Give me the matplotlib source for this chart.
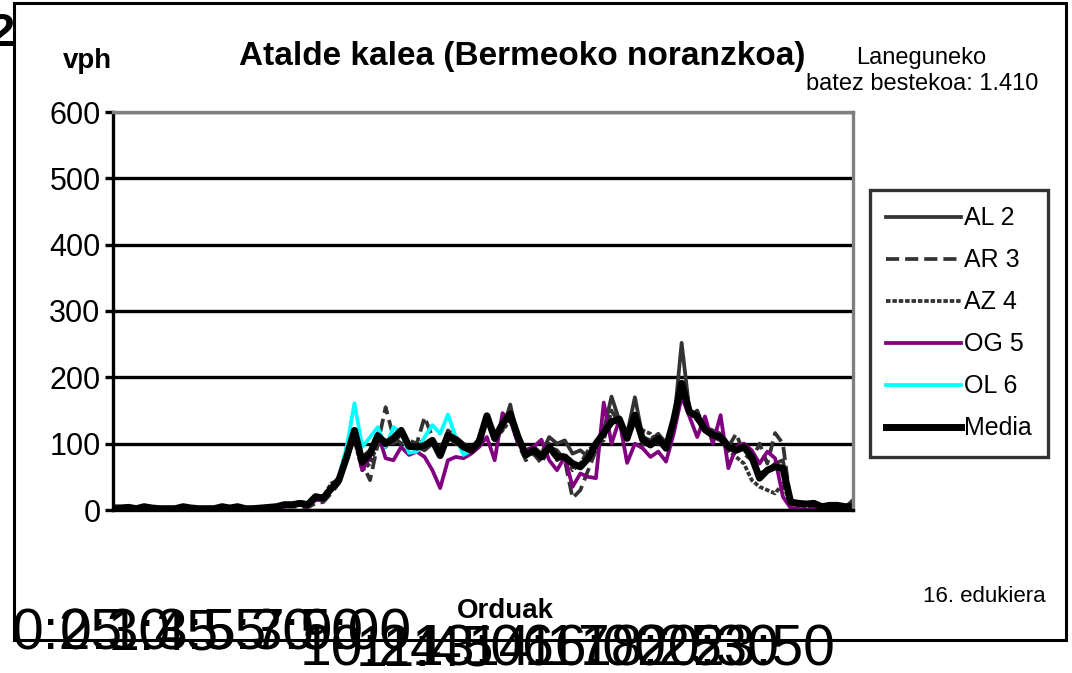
import numpy as np
import matplotlib.pyplot as plt
from matplotlib.patches import Rectangle

plt.rcParams['font.family'] = ['Liberation Sans', 'DejaVu Sans']

# Datuak: 15 minutuko tarteak (96 puntu)
al2 = [5, 5, 5, 3, 6, 4, 3, 3, 3, 6, 4, 3, 3, 3, 6, 4, 6, 3, 3, 4, 5, 6,
       9, 9, 12, 10, 22, 20, 35, 50, 85, 115,
       80, 90, 110, 105, 100, 115, 100, 95, 90, 100,
       95, 110, 100, 98, 92, 108, 140, 115, 120, 159,
       105, 90, 95, 85, 110, 100, 105, 85, 90, 80,
       95, 120, 171, 135, 115, 170, 110, 105, 115, 100,
       130, 252, 150, 140, 125, 120, 115, 100, 90, 100,
       85, 55, 60, 70, 75, 12, 10, 10, 8, 5, 6, 5, 5, 6]
ar3 = [4, 4, 4, 2, 5, 3, 2, 2, 2, 5, 3, 2, 2, 2, 5, 3, 5, 2, 2, 3, 3, 4,
       6, 5, 5, 4, 10, 12, 25, 40, 90, 110,
       70, 45, 100, 155, 110, 100, 105, 100, 140, 110,
       80, 120, 110, 100, 95, 100, 140, 112, 125, 140,
       100, 75, 85, 70, 95, 90, 75, 18, 30, 60,
       90, 115, 150, 130, 120, 140, 100, 95, 115, 100,
       120, 180, 140, 150, 120, 110, 105, 95, 115, 85,
       75, 100, 70, 116, 100, 10, 8, 8, 10, 5, 6, 8, 4, 15]
az4 = [3, 3, 3, 2, 4, 3, 2, 2, 2, 4, 3, 2, 2, 2, 4, 3, 4, 2, 2, 3, 3, 4,
       6, 8, 12, 10, 20, 20, 40, 45, 95, 105,
       60, 70, 100, 95, 105, 115, 95, 100, 105, 100,
       85, 105, 110, 92, 95, 105, 140, 105, 120, 135,
       115, 80, 95, 85, 100, 75, 85, 60, 70, 90,
       100, 105, 150, 140, 110, 135, 120, 115, 100, 95,
       125, 185, 150, 135, 120, 115, 105, 90, 80, 70,
       45, 35, 30, 25, 40, 8, 6, 6, 5, 4, 5, 4, 3, 5]
og5 = [0, 2, 0, 0, 3, 0, 0, 0, 0, 2, 0, 0, 0, 0, 3, 0, 2, 0, 0, 2, 3, 4,
       5, 6, 8, 5, 15, 15, 30, 45, 75, 110,
       60, 80, 116, 78, 75, 95, 83, 88, 80, 60,
       33, 75, 80, 78, 85, 95, 110, 75, 146, 135,
       100, 90, 95, 106, 75, 60, 80, 35, 55, 50,
       48, 162, 100, 136, 71, 100, 93, 80, 88, 73,
       116, 171, 141, 110, 141, 100, 143, 63, 95, 100,
       90, 70, 88, 78, 20, 3, 2, 0, 2, 0, 0, 3, 2, 0]
ol6 = [2, 3, 2, 1, 3, 2, 1, 1, 1, 3, 2, 1, 1, 1, 3, 2, 3, 1, 1, 2, 3, 4,
       6, 7, 8, 7, 18, 16, 30, 50, 95, 161,
       95, 110, 125, 95, 125, 116, 86, 88, 110, 128,
       115, 144, 110, 83, 90]
media = [3, 3, 4, 2, 5, 3, 2, 2, 2, 5, 3, 2, 2, 2, 5, 3, 5, 2, 2, 3, 4, 5,
         8, 8, 10, 8, 20, 18, 32, 45, 80, 120,
         72, 85, 112, 100, 108, 120, 96, 95, 97, 105,
         82, 113, 106, 95, 90, 103, 142, 108, 130, 145,
         110, 83, 90, 80, 95, 80, 80, 70, 65, 78,
         100, 116, 133, 137, 108, 143, 106, 98, 108, 93,
         136, 191, 148, 141, 121, 113, 110, 95, 90, 95,
         80, 48, 60, 65, 63, 12, 10, 9, 10, 5, 7, 7, 5, 5]

y_ticks = [0, 100, 200, 300, 400, 500, 600]
# behean gainjarrita agertzen diren ordu etiketak
ordu_1 = ["0:25", "0:30", "1:45", "3:55", "5:30", "7:50", "9:00"]
ordu_2 = ["10:24", "11:45", "13:06", "14:17", "16:00", "18:25", "20:30", "23:50"]

W, H = 1072, 673


def fx(px):
    return px / W


def fy(py):
    return 1 - py / H


fig = plt.figure(figsize=(W / 100, H / 100), dpi=100)

# kanpoko markoa (ezkerreko "2" moztua atzean)
fig.text(fx(-12), fy(46), "2", fontsize=34, fontweight='bold', zorder=-3)
frame = Rectangle((fx(14), fy(640)), fx(1066) - fx(14), fy(3) - fy(640),
                  transform=fig.transFigure, facecolor='white',
                  edgecolor='black', linewidth=2.2, zorder=-2)
fig.patches.append(frame)

ax = fig.add_axes([fx(113), fy(510), fx(853) - fx(113), fy(112) - fy(510)])
x = np.arange(len(media))
lw = 2.7
ax.plot(x, al2, color='#333333', lw=lw, label='AL 2')
ax.plot(x, ar3, color='#333333', lw=lw, dashes=(3.5, 1.6), label='AR 3')
ax.plot(x, az4, color='#333333', lw=lw, dashes=(1.2, 0.5), label='AZ 4')
ax.plot(x, og5, color='#800080', lw=lw, label='OG 5')
ax.plot(np.arange(len(ol6)), ol6, color='#00FFFF', lw=lw, label='OL 6')
ax.plot(x, media, color='black', lw=5, label='Media')

ax.set_xlim(0, len(media) - 1)
ax.set_ylim(0, 600)
ax.set_yticks(y_ticks)
ax.set_xticks([])
ax.yaxis.grid(True, color='black', lw=2.4)
ax.set_axisbelow(True)
ax.tick_params(axis='y', labelsize=22, length=6, width=2.4, pad=3)
ax.spines['left'].set_linewidth(2.4)
ax.spines['bottom'].set_linewidth(2.4)
ax.spines['top'].set_color('#808080')
ax.spines['right'].set_color('#808080')
ax.spines['top'].set_linewidth(2.4)
ax.spines['right'].set_linewidth(2.4)

leg = fig.legend(loc='upper left', bbox_to_anchor=(fx(870), fy(190)),
                 fontsize=18, frameon=True, fancybox=False, borderaxespad=0,
                 handlelength=3.0, handletextpad=0.1, labelspacing=0.72,
                 borderpad=0.65)
leg.get_frame().set_edgecolor('black')
leg.get_frame().set_linewidth(2.4)

fig.text(fx(522), fy(57), "Atalde kalea (Bermeoko noranzkoa)", fontsize=24,
         fontweight='bold', ha='center', va='center')
fig.text(fx(87), fy(61), "vph", fontsize=20, fontweight='bold',
         ha='center', va='center')
fig.text(fx(921), fy(58), "Laneguneko", fontsize=17, ha='center', va='center')
fig.text(fx(922), fy(84), "batez bestekoa: 1.410", fontsize=17,
         ha='center', va='center')
fig.text(fx(984), fy(596), "16. edukiera", fontsize=16, ha='center', va='center')
fig.text(fx(505), fy(611), "Orduak", fontsize=20, fontweight='bold',
         ha='center', va='center')

for k, s in enumerate(ordu_1):
    fig.text(fx(12 + 48 * k), fy(650), s, fontsize=41, va='baseline')
for k, s in enumerate(ordu_2):
    fig.text(fx(300 + 56 * k), fy(665), s, fontsize=41, va='baseline')

fig.savefig('out.png', dpi=100)
